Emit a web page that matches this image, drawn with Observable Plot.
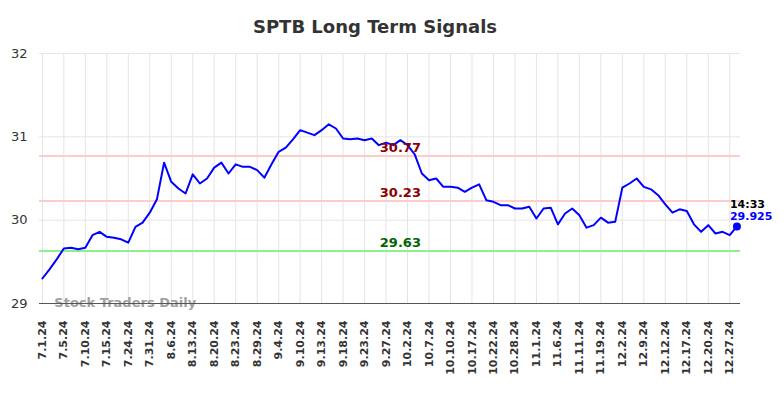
<!DOCTYPE html>
<html><head><meta charset="utf-8">
<script src="https://cdn.jsdelivr.net/npm/d3@7"></script>
<script src="https://cdn.jsdelivr.net/npm/@observablehq/plot@0.6"></script>
<style>
body{margin:0;background:#fff;font-family:"DejaVu Sans",sans-serif;}
#title{height:40px;line-height:54px;text-align:center;font-weight:bold;font-size:18px;color:#333;padding-right:34px;box-sizing:border-box;white-space:nowrap;}
#chart svg{display:block;}
</style></head><body>
<div id="title">SPTB Long Term Signals</div>
<div id="chart"></div>
<script>
const tickLabels = ["7.1.24","7.5.24","7.10.24","7.15.24","7.24.24","7.31.24","8.6.24","8.13.24","8.20.24","8.23.24","8.29.24","9.4.24","9.10.24","9.13.24","9.18.24","9.23.24","9.27.24","10.2.24","10.7.24","10.10.24","10.17.24","10.22.24","10.28.24","11.1.24","11.6.24","11.11.24","11.19.24","12.2.24","12.9.24","12.12.24","12.17.24","12.20.24","12.27.24"];
const prices = [29.30,29.41,29.53,29.66,29.67,29.65,29.67,29.82,29.86,29.80,29.79,29.77,29.73,29.92,29.97,30.09,30.25,30.69,30.46,30.38,30.32,30.55,30.44,30.50,30.63,30.69,30.56,30.67,30.64,30.64,30.60,30.51,30.67,30.82,30.87,30.97,31.08,31.05,31.02,31.08,31.15,31.10,30.98,30.97,30.98,30.96,30.98,30.90,30.93,30.90,30.96,30.90,30.79,30.56,30.48,30.50,30.40,30.40,30.39,30.34,30.39,30.43,30.24,30.22,30.18,30.18,30.14,30.14,30.16,30.02,30.14,30.15,29.95,30.08,30.14,30.06,29.91,29.94,30.03,29.97,29.98,30.39,30.44,30.50,30.40,30.37,30.30,30.19,30.09,30.13,30.11,29.95,29.86,29.94,29.84,29.86,29.82,29.925];
const levels = [30.77, 30.23, 29.63];
const levelTextColors = ["#8b0000","#8b0000","#006400"];
const levelLineColors = ["#ffcccc","#ffcccc","#90ee90"];
const yTicks = [29,30,31,32];
const lastTime = "14:33";
const watermark = "Stock Traders Daily";

const n = prices.length;
const last = n - 1;
const tickIdx = d3.range(0, n, 3);
const labelIdx = n / 2 + 1;

const levelMarks = levels.map((lv, k) =>
  Plot.ruleY([lv], {stroke: levelLineColors[k], strokeWidth: 2})
);
const levelText = levels.map((lv, k) =>
  Plot.text([lv], {x: labelIdx, y: d => d, text: d => d.toFixed(2), fill: levelTextColors[k], fontWeight: "bold", fontSize: 13, dy: -8})
);

const chart = Plot.plot({
  width: 784, height: 358,
  marginLeft: 39, marginRight: 44, marginTop: 13, marginBottom: 95,
  x: {domain: [-0.4, n - 0.5]},
  y: {domain: [29, 32]},
  style: {fontFamily: "DejaVu Sans", background: "#fff"},
  marks: [
    Plot.gridX(tickIdx, {stroke: "#e4e4e4", strokeOpacity: 1, strokeWidth: 1}),
    Plot.gridY(yTicks, {stroke: "#e4e4e4", strokeOpacity: 1, strokeWidth: 1}),
    ...levelMarks,
    Plot.text([watermark], {x: 0, y: 29, text: d => d, textAnchor: "start", dx: 12, dy: -1, fill: "#a0a0a0", fontWeight: "bold", fontSize: 13}),
    Plot.ruleY([29], {stroke: "#555", strokeWidth: 1.2}),
    Plot.lineY(prices, {x: (d, i) => i, y: d => d, stroke: "#0000ff", strokeWidth: 2}),
    Plot.dot([last], {x: d => d, y: d => prices[d], r: 4, fill: "#0000ff"}),
    ...levelText,
    Plot.text([last], {x: d => d, y: d => prices[d], text: () => lastTime, textAnchor: "start", dx: -7, dy: -22, fill: "#000", fontWeight: "bold", fontSize: 11}),
    Plot.text([last], {x: d => d, y: d => prices[d], text: d => String(prices[d]), textAnchor: "start", dx: -7, dy: -10, fill: "#0000ff", fontWeight: "bold", fontSize: 11}),
    Plot.axisX(tickIdx, {tickFormat: i => tickLabels[i / 3], tickRotate: -90, tickSize: 0, tickPadding: 17, fontSize: 11, fontWeight: "bold", fill: "#333", label: null}),
    Plot.axisY(yTicks, {tickSize: 0, tickPadding: 12, fontSize: 13, fill: "#333", label: null, tickFormat: d => String(d)})
  ]
});
document.getElementById("chart").appendChild(chart);
</script>
</body></html>
